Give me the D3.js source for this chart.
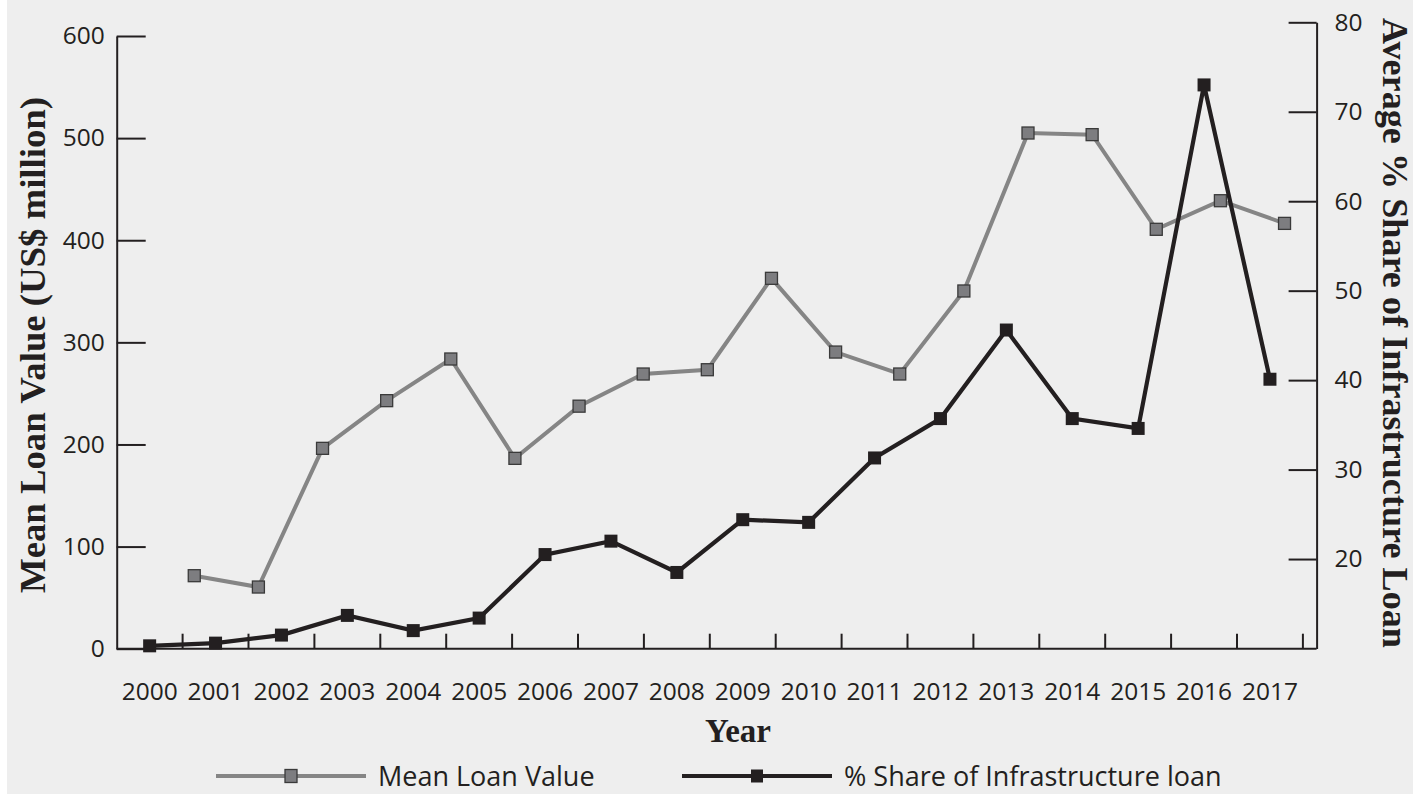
<!DOCTYPE html>
<html>
<head>
    <title>Mean Loan Value and Infrastructure Share</title>
    <script src="https://cdn.jsdelivr.net/npm/d3@7/dist/d3.min.js"></script>
</head>

<style>
    body{
        margin:0;
        background-color: #ffffff;
        font-family: 'Open Sans', sans-serif;
    }
    .axis text{
        font-family: 'Open Sans', sans-serif;
        font-size: 24.5px;
        fill: #231f20;
    }
    .axis path, .axis line{
        stroke: #231f20;
        stroke-width: 2px;
    }
    .title{
        font-family: 'Liberation Serif', 'DejaVu Serif', serif;
        font-weight: bold;
        fill: #231f20;
    }
</style>

<body>
    <div id="chart"></div>
</body>

<script>

    // data
    var years = ["2000","2001","2002","2003","2004","2005","2006","2007","2008",
                 "2009","2010","2011","2012","2013","2014","2015","2016","2017"];
    var meanLoanValue = [71.5, 60.4, 196.2, 242.9, 283.7, 186.4, 237.5, 269, 273.2,
                         362.7, 290.5, 269, 350.3, 505, 503.4, 410.7, 438.7, 416.5];
    var infraShare = [10.3, 10.6, 11.5, 13.7, 12.0, 13.4, 20.5, 22.0, 18.5,
                      24.4, 24.1, 31.3, 35.7, 45.6, 35.7, 34.6, 73.0, 40.1];
    var leftTicks = [0, 100, 200, 300, 400, 500, 600];
    var rightTicks = [20, 30, 40, 50, 60, 70, 80];

    var width = 1413, height = 794;
    var ink = "#231f20", greyLine = "#858585", greyFill = "#7d7d80";

    var svg = d3.select("#chart").append("svg")
        .attr("width", width)
        .attr("height", height);

    svg.append("rect")
        .attr("x", 7).attr("y", 0)
        .attr("width", width - 7).attr("height", height)
        .attr("fill", "#eeeeee");

    // setup x (primary axis carries the % share, secondary one the loan value)
    var x = d3.scaleBand().domain(years).range([116.7, 1302.9]),
        x2 = d3.scaleBand().domain(years).range([162.2, 1316.6]);

    // setup y
    var yL = d3.scaleLinear().domain([0, 600]).range([648.7, 36]),
        yR = d3.scaleLinear().domain([10, 80]).range([648.5, 22.3]);

    // left axis
    svg.append("g")
        .attr("class", "axis")
        .attr("transform", "translate(" + x.range()[0] + ",0)")
        .call(d3.axisLeft(yL).tickValues(leftTicks).tickSize(-29).tickSizeOuter(0).tickPadding(12));

    // right axis
    svg.append("g")
        .attr("class", "axis")
        .attr("transform", "translate(" + x2.range()[1] + ",0)")
        .call(d3.axisRight(yR).tickValues(rightTicks).tickSize(-28).tickSizeOuter(0).tickPadding(18));

    // x axis labels
    var xAxis = svg.append("g")
        .attr("class", "axis")
        .attr("transform", "translate(0," + yL(0) + ")")
        .call(d3.axisBottom(x).tickSize(0).tickPadding(34));
    xAxis.select(".domain").remove();

    // x axis line and the ticks between categories
    svg.append("line")
        .attr("x1", x.range()[0]).attr("x2", x2.range()[1])
        .attr("y1", yL(0)).attr("y2", yL(0))
        .attr("stroke", ink).attr("stroke-width", 2);

    svg.selectAll(".xtick")
        .data(years)
        .enter().append("line")
        .attr("class", "xtick")
        .attr("x1", function(d) { return x(d) + x.step(); })
        .attr("x2", function(d) { return x(d) + x.step(); })
        .attr("y1", yL(0)).attr("y2", yL(0) - 15)
        .attr("stroke", ink).attr("stroke-width", 2);

    // mean loan value (grey, left y axis)
    var greyPts = years.map(function(d, i) { return {year: d, v: meanLoanValue[i]}; });
    var greyLineGen = d3.line()
        .x(function(d) { return x2(d.year) + x2.bandwidth() / 2; })
        .y(function(d) { return yL(d.v); });

    svg.append("path")
        .datum(greyPts)
        .attr("d", greyLineGen)
        .attr("fill", "none")
        .attr("stroke", greyLine)
        .attr("stroke-width", 4);

    svg.selectAll(".greydot")
        .data(greyPts)
        .enter().append("rect")
        .attr("class", "greydot")
        .attr("x", function(d) { return x2(d.year) + x2.bandwidth() / 2 - 6; })
        .attr("y", function(d) { return yL(d.v) - 6; })
        .attr("width", 12).attr("height", 12)
        .attr("fill", greyFill)
        .attr("stroke", "#3a3a3a")
        .attr("stroke-width", 1.3);

    // % share of infrastructure loan (black, right y axis)
    var blackPts = years.map(function(d, i) { return {year: d, v: infraShare[i]}; });
    var blackLineGen = d3.line()
        .x(function(d) { return x(d.year) + x.bandwidth() / 2; })
        .y(function(d) { return yR(d.v); });

    svg.append("path")
        .datum(blackPts)
        .attr("d", blackLineGen)
        .attr("fill", "none")
        .attr("stroke", ink)
        .attr("stroke-width", 4.2);

    svg.selectAll(".blackdot")
        .data(blackPts)
        .enter().append("rect")
        .attr("class", "blackdot")
        .attr("x", function(d) { return x(d.year) + x.bandwidth() / 2 - 6.5; })
        .attr("y", function(d) { return yR(d.v) - 6.5; })
        .attr("width", 13).attr("height", 13)
        .attr("fill", ink);

    // axis titles
    svg.append("text")
        .attr("class", "title")
        .attr("transform", "translate(45,345) rotate(-90)")
        .attr("text-anchor", "middle")
        .attr("font-size", 35)
        .attr("textLength", 496)
        .attr("lengthAdjust", "spacingAndGlyphs")
        .text("Mean Loan Value (US$ million)");

    svg.append("text")
        .attr("class", "title")
        .attr("transform", "translate(1383,333) rotate(90)")
        .attr("text-anchor", "middle")
        .attr("font-size", 35)
        .attr("textLength", 630)
        .attr("lengthAdjust", "spacingAndGlyphs")
        .text("Average % Share of Infrastructure Loan");

    svg.append("text")
        .attr("class", "title")
        .attr("x", 738).attr("y", 742)
        .attr("text-anchor", "middle")
        .attr("font-size", 33)
        .text("Year");

    // legend
    var legend = [
        {label: "Mean Loan Value", x: 216, line: greyLine, fill: greyFill, stroke: "#3a3a3a"},
        {label: "% Share of Infrastructure loan", x: 682, line: ink, fill: ink, stroke: "none"}
    ];

    var lg = svg.selectAll(".legend")
        .data(legend)
        .enter().append("g")
        .attr("class", "legend")
        .attr("transform", function(d) { return "translate(" + d.x + ",776)"; });

    lg.append("line")
        .attr("x1", 0).attr("x2", 150)
        .attr("stroke", function(d) { return d.line; })
        .attr("stroke-width", 4);

    lg.append("rect")
        .attr("x", 69).attr("y", -6.5)
        .attr("width", 12).attr("height", 13)
        .attr("fill", function(d) { return d.fill; })
        .attr("stroke", function(d) { return d.stroke; })
        .attr("stroke-width", 1.3);

    lg.append("text")
        .attr("x", 162).attr("y", 10)
        .style("font-family", "'Open Sans', sans-serif")
        .style("font-size", "27px")
        .attr("fill", ink)
        .text(function(d) { return d.label; });

</script>

</html>
